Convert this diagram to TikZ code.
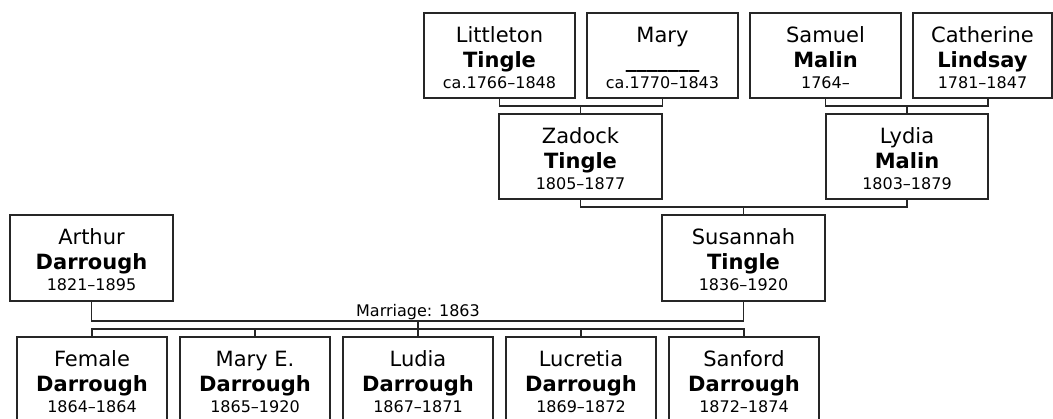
\documentclass[tikz,border=0pt]{standalone}
\usepackage{fontspec}
\setmainfont{DejaVu Sans}
\usetikzlibrary{calc}
\tikzset{
  conn/.style={line width=1.1pt, draw=black!85},
  person/.style={draw=black!85, line width=1.1pt, inner sep=0pt, outer sep=0pt, minimum height=85pt},
  who/.style n args={3}{label={[anchor=north, yshift=-9pt, inner sep=0pt, align=center,
      font=\fontsize{21}{25}\selectfont]north:{\rule{0pt}{20pt}#1\\\textbf{#2}\\[-4pt]{\fontsize{16}{20}\selectfont #3}}}},
  mlab/.style={font=\fontsize{16}{20}\selectfont, anchor=base, inner sep=0pt}
}
\begin{document}
\begin{tikzpicture}[x=1pt, y=-1pt]
\useasboundingbox (0,0) rectangle (1053,418);
\clip (0,0) rectangle (1053,418);
% top row
\node[person, minimum width=151pt, who={Littleton}{Tingle}{ca.1766–1848}] (lit) at (499.5,55.5) {};
\node[person, minimum width=151pt, who={Mary}{\_\_\_\_\_\_\_}{ca.1770–1843}] (mary) at (662.5,55.5) {};
\node[person, minimum width=151pt, who={Samuel}{Malin}{1764–}] (sam) at (825.5,55.5) {};
\node[person, minimum width=139pt, who={Catherine}{Lindsay}{1781–1847}] (cat) at (982.5,55.5) {};
% second row
\node[person, minimum width=163pt, who={Zadock}{Tingle}{1805–1877}] (zad) at (580.5,156.5) {};
\node[person, minimum width=162pt, who={Lydia}{Malin}{1803–1879}] (lyd) at (907,156.5) {};
% third row
\node[person, minimum width=163pt, minimum height=86pt, who={Arthur}{Darrough}{1821–1895}] (art) at (91.5,258) {};
\node[person, minimum width=163pt, minimum height=86pt, who={Susannah}{Tingle}{1836–1920}] (sus) at (743.5,258) {};
% children
\node[person, minimum width=150pt, minimum height=86pt, who={Female}{Darrough}{1864–1864}] (c1) at (92,380) {};
\node[person, minimum width=150pt, minimum height=86pt, who={Mary E.}{Darrough}{1865–1920}] (c2) at (255,380) {};
\node[person, minimum width=150pt, minimum height=86pt, who={Ludia}{Darrough}{1867–1871}] (c3) at (418,380) {};
\node[person, minimum width=150pt, minimum height=86pt, who={Lucretia}{Darrough}{1869–1872}] (c4) at (581,380) {};
\node[person, minimum width=150pt, minimum height=86pt, who={Sanford}{Darrough}{1872–1874}] (c5) at (744,380) {};
% connectors
\coordinate (j1) at ($(lit.south)!.5!(zad.north)$);
\draw[conn] (lit.south) |- (j1) -| (mary.south);
\draw[conn] (zad.north) -- (zad.north |- j1);
\coordinate (j2) at ($(sam.south)!.5!(lyd.north)$);
\draw[conn] (sam.south) |- (j2) -| (cat.south -| lyd.north east);
\draw[conn] (lyd.north) -- (lyd.north |- j2);
\coordinate (j3) at ($(zad.south)!.5!(sus.north)$);
\draw[conn] (zad.south) |- (j3) -| (lyd.south);
\draw[conn] (sus.north) -- (sus.north |- j3);
\coordinate (mline) at (418,321);
\coordinate (cline) at (418,329);
\draw[conn] (art.south) |- (mline) -| (sus.south);
\draw[conn] (mline) -- (cline);
\draw[conn] (c1.north) |- (cline) -| (c5.north);
\draw[conn] (c2.north) -- (c2.north |- cline);
\draw[conn] (c3.north) -- (c3.north |- cline);
\draw[conn] (c4.north) -- (c4.north |- cline);
\node[mlab] (mlabel) at (418,316) {Marriage: 1863};
\end{tikzpicture}
\end{document}
